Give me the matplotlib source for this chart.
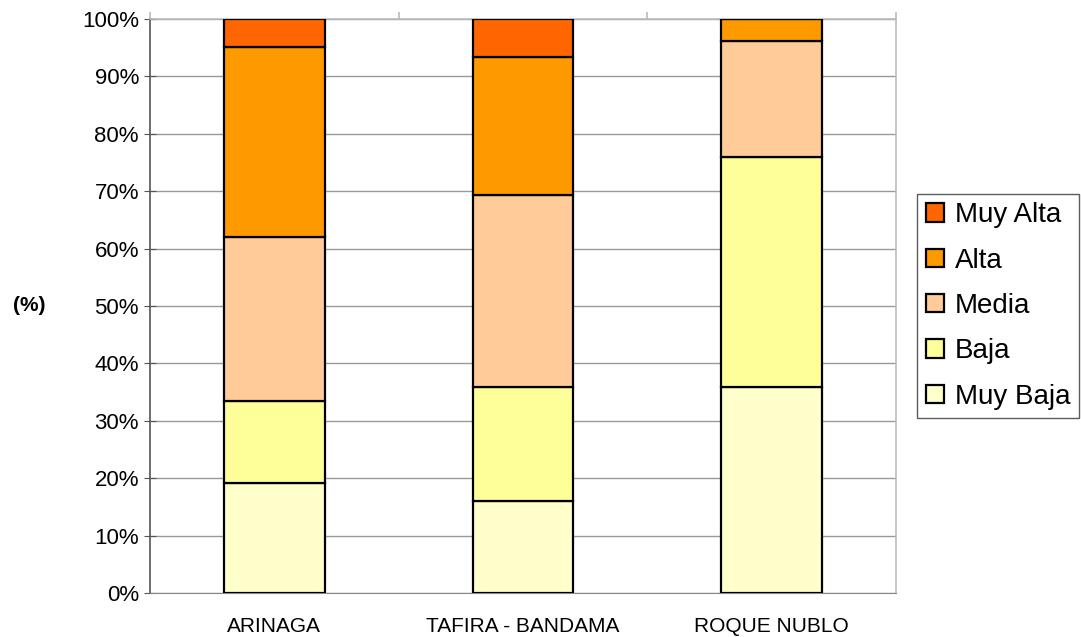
import matplotlib
matplotlib.use("Agg")
import matplotlib.pyplot as plt
import numpy as np

plt.rcParams['font.family'] = ['Liberation Sans', 'DejaVu Sans']

zones = ["ARINAGA", "TAFIRA - BANDAMA", "ROQUE NUBLO"]
levels = ["Muy Baja", "Baja", "Media", "Alta", "Muy Alta"]
muy_baja = [19.2, 16.0, 35.9]
baja = [14.2, 19.9, 40.1]
media = [28.6, 33.4, 20.2]
alta = [33.1, 24.1, 3.8]
muy_alta = [4.9, 6.6, 0.0]
colors = ["#FFFFCC", "#FFFF99", "#FFCC99", "#FF9900", "#FF6600"]

series = [muy_baja, baja, media, alta, muy_alta]

fig = plt.figure(figsize=(10.81, 6.37), dpi=100)
ax = fig.add_axes([0.1388, 0.0691, 0.6901, 0.9011])

x = np.arange(len(zones))
bottom = np.zeros(len(zones))
handles = []
for vals, col, name in zip(series, colors, levels):
    v = np.array(vals)
    b = ax.bar(x, v, bottom=bottom, width=0.405, color=col,
               edgecolor="black", linewidth=1.6, label=name, zorder=3)
    handles.append(b)
    bottom += v

ax.set_xlim(-0.5, 2.5)
ax.set_ylim(0, 100)
ax.set_yticks(np.arange(0, 101, 10))
ax.set_yticklabels([f"{t}%" for t in range(0, 101, 10)], fontsize=16)
ax.set_xticks(x)
ax.set_xticklabels(zones, fontsize=15)
ax.tick_params(axis='x', length=0, pad=17)
ax.tick_params(axis='y', direction='inout', length=8, color="#555555", pad=4)
ax.yaxis.grid(True, color="#999999", linewidth=1, zorder=0)
ax.set_axisbelow(True)

ax.spines['left'].set_color("#555555")
ax.spines['left'].set_linewidth(1.2)
ax.spines['bottom'].set_color("#888888")
ax.spines['top'].set_color("#bbbbbb")
ax.spines['right'].set_color("#bbbbbb")
ax.spines['top'].set_linewidth(1.2)
ax.spines['right'].set_linewidth(1.2)

# category separators on the top frame
top = ax.secondary_xaxis('top')
top.set_xticks([-0.5, 0.5, 1.5, 2.5])
top.set_xticklabels([])
top.tick_params(direction='out', length=5, color="#bbbbbb", width=1.2)
top.spines['top'].set_visible(False)

fig.text(0.0275, 0.52, "(%)", fontsize=15, fontweight='bold', ha='center', va='center')

leg = ax.legend(handles[::-1], levels[::-1], loc='center left',
                bbox_to_anchor=(1.0285, 0.5), fontsize=20, frameon=True,
                fancybox=False, edgecolor="#333333", handlelength=0.65,
                handleheight=0.65, handletextpad=0.4, labelspacing=0.7,
                borderpad=0.3, borderaxespad=0)
leg.get_frame().set_linewidth(1.0)

fig.savefig("out.png", dpi=100)
